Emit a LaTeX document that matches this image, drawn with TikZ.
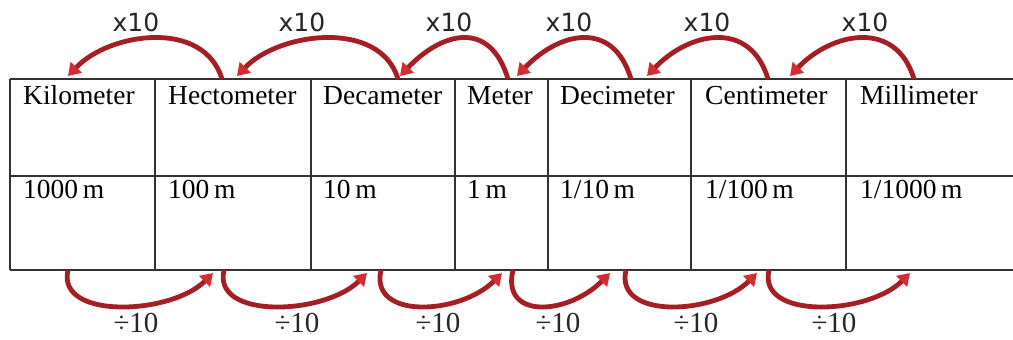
\documentclass[tikz,border=0pt]{standalone}
\usepackage{fontspec}
\setmainfont{Liberation Serif}
\newfontfamily\lblsans{DejaVu Sans}
\usetikzlibrary{arrows.meta}
\definecolor{arcred}{RGB}{165,30,36}
\definecolor{tipred}{RGB}{212,44,48}
\definecolor{gridgray}{RGB}{50,50,50}
\begin{document}
\begin{tikzpicture}[x=1pt,y=1pt,
  gridline/.style={draw=gridgray, line width=1.3pt},
  celltxt/.style={anchor=base west, inner sep=0pt, font=\fontsize{27.5}{30}\selectfont},
  uplbl/.style={anchor=base, inner sep=0pt, text=black!85, font=\lblsans\fontsize{25}{28}\selectfont},
  dnlbl/.style={anchor=base, inner sep=0pt, text=black!85, font=\fontsize{29}{30}\selectfont},
  conv/.style={draw=arcred, line width=4.8pt,
    -{Triangle[width=15pt,length=12pt,fill=tipred,color=tipred]}}]
\useasboundingbox (0,0) rectangle (1013,340);
\fill[white] (0,0) rectangle (1013,340);
% table grid
\draw[gridline] (10,261) -- (1013,261);
\draw[gridline] (10,164) -- (1013,164);
\draw[gridline] (10,70) -- (1013,70);
\foreach \x in {10,155,311,455,548,691,846}
  \draw[gridline] (\x,70) -- (\x,261);
% header and value cells
\node[celltxt] (h1) at (23,235) {Kilometer};
\node[celltxt] (h2) at (168,235) {Hectometer};
\node[celltxt] (h3) at (323,235) {Decameter};
\node[celltxt] (h4) at (467,235) {Meter};
\node[celltxt] (h5) at (560,235) {Decimeter};
\node[celltxt] (h6) at (705,235) {Centimeter};
\node[celltxt] (h7) at (860,235) {Millimeter};
\node[celltxt] (v1) at (23,141) {1000\,m};
\node[celltxt] (v2) at (168,141) {100\,m};
\node[celltxt] (v3) at (323,141) {10\,m};
\node[celltxt] (v4) at (467,141) {1\,m};
\node[celltxt] (v5) at (560,141) {1/10\,m};
\node[celltxt] (v6) at (705,141) {1/100\,m};
\node[celltxt] (v7) at (860,141) {1/1000\,m};
% top arcs (x10)
\coordinate (tr1) at (222,261); \coordinate (tl1) at (68,264);
\coordinate (tr2) at (398,261); \coordinate (tl2) at (237,264);
\coordinate (tr3) at (508,261); \coordinate (tl3) at (400,264);
\coordinate (tr4) at (631,261); \coordinate (tl4) at (517,264);
\coordinate (tr5) at (768,261); \coordinate (tl5) at (647,264);
\coordinate (tr6) at (914,261); \coordinate (tl6) at (790,264);
\foreach \i in {1,...,6}
  \draw[conv] (tr\i) .. controls +(-18,60) and +(42,44) .. (tl\i);
\node[uplbl] (m1) at (136,308) {x10};
\node[uplbl] (m2) at (302,308) {x10};
\node[uplbl] (m3) at (449,308) {x10};
\node[uplbl] (m4) at (569,308) {x10};
\node[uplbl] (m5) at (707,308) {x10};
\node[uplbl] (m6) at (865,308) {x10};
% bottom arcs (divide by 10)
\coordinate (bl1) at (68,70);  \coordinate (br1) at (213,67);
\coordinate (bl2) at (224,70); \coordinate (br2) at (367,67);
\coordinate (bl3) at (381,70); \coordinate (br3) at (502,67);
\coordinate (bl4) at (513,70); \coordinate (br4) at (610,67);
\coordinate (bl5) at (626,70); \coordinate (br5) at (757,67);
\coordinate (bl6) at (769,70); \coordinate (br6) at (910,67);
\foreach \i in {1,...,6}
  \draw[conv] (bl\i) .. controls +(-12,-50) and +(-42,-42) .. (br\i);
\node[dnlbl] (d1) at (136,7) {÷10};
\node[dnlbl] (d2) at (297,7) {÷10};
\node[dnlbl] (d3) at (438,7) {÷10};
\node[dnlbl] (d4) at (558,7) {÷10};
\node[dnlbl] (d5) at (696,7) {÷10};
\node[dnlbl] (d6) at (834,7) {÷10};
\end{tikzpicture}
\end{document}
